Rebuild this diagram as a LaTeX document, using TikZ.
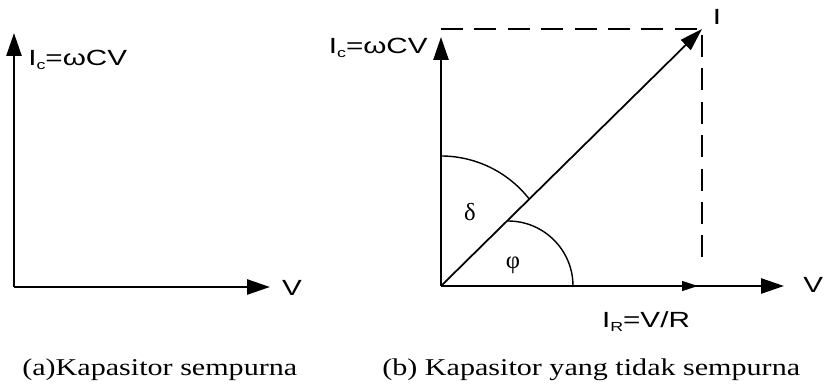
\documentclass[tikz,border=0pt]{standalone}
\usepackage{fontspec}
\setmainfont{Liberation Serif}
\newfontfamily\labelfont[FakeStretch=1.35]{Liberation Sans}
\newfontfamily\captfont[FakeStretch=1.25]{Liberation Serif}
\usetikzlibrary{arrows.meta}
\newcommand{\lowsub}[1]{\raisebox{-0.35ex}{\fontsize{7.5}{8}\selectfont #1}}

\begin{document}
\begin{tikzpicture}[
    x=0.02cm, y=-0.02cm,
    every node/.style={inner sep=0pt},
    axis/.style={line width=1.4pt, -{Triangle[length=13pt, width=8.5pt]}},
    phasor/.style={line width=1pt, -{Triangle[length=13pt, width=8pt]}},
    rphasor/.style={line width=1pt, -{Triangle[length=9pt, width=5.5pt]}},
    guide/.style={line width=1.6pt, dash pattern=on 12.5pt off 6.5pt},
    anglearc/.style={line width=0.8pt},
    lbl/.style={font=\labelfont\fontsize{12.5}{14}\selectfont},
    greek/.style={font=\fontsize{14}{16}\selectfont},
    capt/.style={font=\captfont\fontsize{13.7}{16}\selectfont, anchor=west}
]
\useasboundingbox (0,0) rectangle (824,391);

\coordinate (oa) at (14,287);
\coordinate (ya) at (14,33);
\coordinate (xa) at (270,287);
\draw[axis] (oa) -- (ya);
\draw[axis] (oa) -- (xa);
\node[lbl, anchor=west] (ica) at (28,60) {I\lowsub{c}=ωCV};
\node[lbl] (va) at (292,288) {V};
\node[capt] (capa) at (22,370) {(a)Kapasitor sempurna};

\coordinate (ob) at (441,286);
\coordinate (yb) at (441,37);
\coordinate (xb) at (784,286);
\coordinate (tl) at (441,29);
\coordinate (ib) at (702,29);
\coordinate (rb) at (702,268);
\coordinate (irb) at (698,286);
\coordinate (deltastart) at (441,156);
\coordinate (phistart) at (508,221);
\draw[guide] (tl) -- (ib) -- (rb);
\draw[axis] (ob) -- (yb);
\draw[axis] (ob) -- (xb);
\draw[rphasor] (ob) -- (irb);
\draw[phasor] (ob) -- (ib);
\draw[anglearc] (deltastart) arc[start angle=90, end angle=38, radius=2.24cm];
\draw[anglearc] (phistart) arc[start angle=90, end angle=0, radius=1.3cm];
\node[greek] (delta) at (470,212) {δ};
\node[greek] (phi) at (513,265) {φ};
\node[lbl, anchor=east] (icb) at (428,48) {I\lowsub{c}=ωCV};
\node[lbl] (i) at (717,17) {I};
\node[lbl] (ir) at (646,322) {I\lowsub{R}=V/R};
\node[lbl, anchor=west] (vb) at (803,285) {V};
\node[capt] (capb) at (382,370) {(b) Kapasitor yang tidak sempurna};

\end{tikzpicture}
\end{document}
